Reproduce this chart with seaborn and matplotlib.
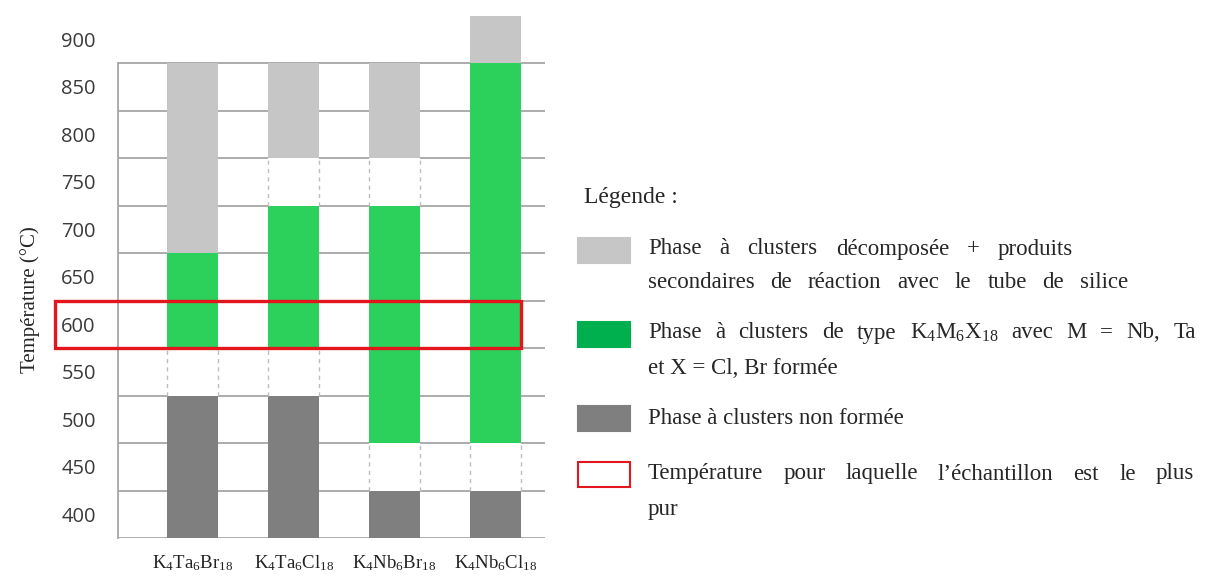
import numpy as np
import pandas as pd
import matplotlib
matplotlib.use("Agg")
import matplotlib.pyplot as plt
from matplotlib.patches import Rectangle
from matplotlib.ticker import FixedLocator
import seaborn as sns

# -------------------------------------------------
# Data (temperatures in °C)
# -------------------------------------------------
compounds = [r"$\mathrm{K_4Ta_6Br_{18}}$", r"$\mathrm{K_4Ta_6Cl_{18}}$",
             r"$\mathrm{K_4Nb_6Br_{18}}$", r"$\mathrm{K_4Nb_6Cl_{18}}$"]
non_forme_top = [525, 525, 425, 425]       # dark grey, from the bottom
forme_bottom = [575, 575, 475, 475]        # green
forme_top = [675, 725, 725, 875]
decompose_bottom = [675, 775, 775, 875]    # light grey
decompose_top = [875, 875, 875, 925]
y_labels = [400, 450, 500, 550, 600, 650, 700, 750, 800, 850, 900]
pure_range = (575, 625)

# legend lines: (text, right edge in px or None when not justified)
legend_lines = [
    [("Phase à clusters décomposée + produits", 1073),
     ("secondaires de réaction avec le tube de silice", 1128)],
    [("Phase à clusters de type $\\mathrm{K_4M_6X_{18}}$ avec M = Nb, Ta", 1196),
     ("et X = Cl, Br formée", None)],
    [("Phase à clusters non formée", None)],
    [("Température pour laquelle l\u2019échantillon est le plus", 1194),
     ("pur", None)],
]

LIGHT = "#c6c6c6"
GREEN = "#2bd15b"
GREEN_LEG = "#00b04f"
DARK = "#7f7f7f"
RED = "#e3161e"
GRID = "#a6a6a6"

# -------------------------------------------------
# Figure
# -------------------------------------------------
sns.set_style("white")
plt.rcParams["mathtext.fontset"] = "custom"
plt.rcParams["mathtext.rm"] = "Liberation Serif"
plt.rcParams["mathtext.it"] = "Liberation Serif:italic"

W, H = 1206, 586
fig = plt.figure(figsize=(W / 100, H / 100), dpi=100)
ax = fig.add_axes([118 / W, 1 - 538 / H, (545 - 118) / W, (538 - 15.5) / H])

df = pd.DataFrame({
    "compound": compounds,
    "dec_top": decompose_top,
    "dec_bot": decompose_bottom,
    "for_top": forme_top,
    "for_bot": forme_bottom,
    "non_top": non_forme_top,
})

# layered bars: each one covers the lower part of the previous one
layers = [("dec_top", LIGHT), ("dec_bot", "white"), ("for_top", GREEN),
          ("for_bot", "white"), ("non_top", DARK)]
for col, c in layers:
    sns.barplot(data=df, x="compound", y=col, color=c, width=0.5,
                saturation=1, linewidth=0, ax=ax, zorder=2)

# dashed edges in the empty cells
for i in range(len(compounds)):
    gaps = [(non_forme_top[i], forme_bottom[i]), (forme_top[i], decompose_bottom[i])]
    for lo, hi in gaps:
        if hi > lo:
            ax.vlines([i - 0.25, i + 0.25], lo, hi, colors="#bdbdbd",
                      linestyles=(0, (3, 3)), linewidth=1, zorder=3)

# grid lines between the temperature labels
ax.set_ylim(375, 925)
ax.set_xlim(-0.74, 3.49)
ax.set_yticks(y_labels)
ax.yaxis.set_minor_locator(FixedLocator(list(np.array(y_labels) - 25)))
ax.grid(axis="y", which="minor", color=GRID, linewidth=1.3, zorder=0)
ax.set_axisbelow(True)
ax.tick_params(axis="y", which="major", length=0, pad=16)
ax.tick_params(axis="y", which="minor", length=5, width=1.3, color=GRID, direction="out")
ax.tick_params(axis="x", length=0, pad=11)
for t in ax.get_yticklabels():
    t.set_fontfamily("Open Sans")
    t.set_fontsize(14.5)
    t.set_color("#3a3a3a")
for t in ax.get_xticklabels():
    t.set_fontsize(13.5)
    t.set_color("#222222")

for s in ["top", "right", "bottom"]:
    ax.spines[s].set_visible(False)
ax.spines["left"].set_bounds(375, 875)
ax.spines["left"].set_color(GRID)
ax.spines["left"].set_linewidth(1.3)
ax.set_xlabel("")
ax.set_ylabel("")

# red frame at the purest temperature
ax.add_patch(Rectangle((-1.36, pure_range[0]), 3.25 + 1.36, pure_range[1] - pure_range[0],
                       fill=False, edgecolor=RED, linewidth=2.4, clip_on=False, zorder=5))

fig.text(30 / W, 1 - 300 / H, "Température (°C)", rotation=90, ha="center", va="center",
         family="Liberation Serif", fontsize=15)

# -------------------------------------------------
# Legend
# -------------------------------------------------
serif = "Liberation Serif"
LFS = 16.5
renderer = fig.canvas.get_renderer()


def put_line(text, x0, y, x1=None):
    # x1 given: spread the words so the line ends at x1 (justified)
    if x1 is None:
        fig.text(x0 / W, 1 - y / H, text, family=serif, fontsize=LFS, va="center")
        return
    words = text.split(" ")
    arts = [fig.text(0, 1 - y / H, w, family=serif, fontsize=LFS, va="center") for w in words]
    widths = [a.get_window_extent(renderer).width for a in arts]
    gap = (x1 - x0 - sum(widths)) / (len(words) - 1)
    x = x0
    for a, w in zip(arts, widths):
        a.set_x(x / W)
        x += w + gap


fig.text(584 / W, 1 - 197 / H, "Légende :", family=serif, fontsize=17, va="center")
swatches = [(LIGHT, None), (GREEN_LEG, None), (DARK, None), ("white", RED)]
sw_y = [238, 322, 406, 462]
txt_y = [[249, 283], [333, 368], [418], [474, 510]]
for (fc, ec), y0, ys, lines in zip(swatches, sw_y, txt_y, legend_lines):
    fig.add_artist(Rectangle((578 / W, 1 - (y0 + 25) / H), 52 / W, 25 / H,
                             transform=fig.transFigure, facecolor=fc,
                             edgecolor=ec if ec else fc, linewidth=1.5))
    for (txt, right), ty in zip(lines, ys):
        put_line(txt, 648, ty, right)

fig.savefig("out.png", dpi=100)
